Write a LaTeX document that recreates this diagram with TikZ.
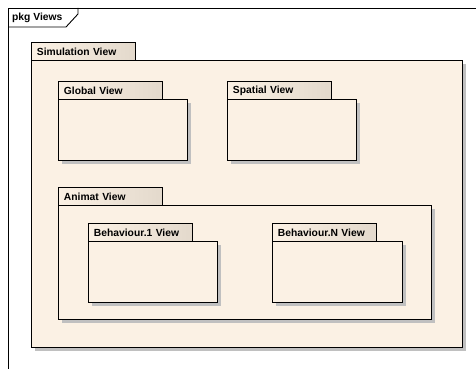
\documentclass[tikz,border=0pt]{standalone}
\usepackage{fontspec}
\setmainfont{Liberation Sans}
\usetikzlibrary{shadows}
\definecolor{cream}{HTML}{FBF1E4}
\definecolor{tabdark}{HTML}{E3D9CC}
\definecolor{shadowgray}{HTML}{C0C0C0}
\tikzset{
  lbl/.style={font=\bfseries\fontsize{10.3}{12}\selectfont},
  pkgtab/.style={draw=black, line width=0.9pt, left color=cream, right color=tabdark,
    anchor=north west, inner xsep=5.5pt, inner ysep=0pt, align=left,
    minimum height=18pt, text width=93pt, lbl},
  pkgbody/.style={draw=black, line width=0.9pt, fill=cream, anchor=north west, inner sep=0pt,
    drop shadow={shadow xshift=4pt, shadow yshift=-4pt, fill=shadowgray, opacity=1}},
  framepen/.style={draw=black, line width=0.9pt}
}
\begin{document}
\begin{tikzpicture}[x=1pt,y=-1pt]
\useasboundingbox (0,0) rectangle (476,369);
% outer frame
\coordinate (fbl) at (8,369);
\coordinate (ftl) at (8,8);
\coordinate (ftr) at (476,8);
\draw[framepen] (fbl) -- (ftl) -- (ftr);
\coordinate (p1) at (8,27);
\coordinate (p2) at (66,27);
\coordinate (p3) at (78,14);
\coordinate (p4) at (78,8);
\draw[framepen] (p1) -- (p2) -- (p3) -- (p4);
\node[lbl, anchor=west, inner sep=0pt] (frametitle) at (12,17.5) {pkg Views};

% Simulation View
\node[pkgbody, minimum width=431pt, minimum height=287pt] (simbody) at (31,60) {};
\node[pkgtab] (simtab) at (31,42) {Simulation View};

% Global View
\node[pkgbody, minimum width=129pt, minimum height=61pt] (globbody) at (58,99) {};
\node[pkgtab] (globtab) at (58,81) {Global View};

% Spatial View
\node[pkgbody, minimum width=129pt, minimum height=61pt] (spatbody) at (227,99) {};
\node[pkgtab] (spattab) at (227,81) {Spatial View};

% Animat View
\node[pkgbody, minimum width=373pt, minimum height=114pt] (animbody) at (58,205) {};
\node[pkgtab] (animtab) at (58,187) {Animat View};

% Behaviour.1 View
\node[pkgbody, minimum width=129pt, minimum height=61pt] (b1body) at (88,241) {};
\node[pkgtab] (b1tab) at (88,223) {Behaviour.1 View};

% Behaviour.N View
\node[pkgbody, minimum width=130pt, minimum height=61pt] (bnbody) at (272,241) {};
\node[pkgtab] (bntab) at (272,223) {Behaviour.N View};
\end{tikzpicture}
\end{document}
